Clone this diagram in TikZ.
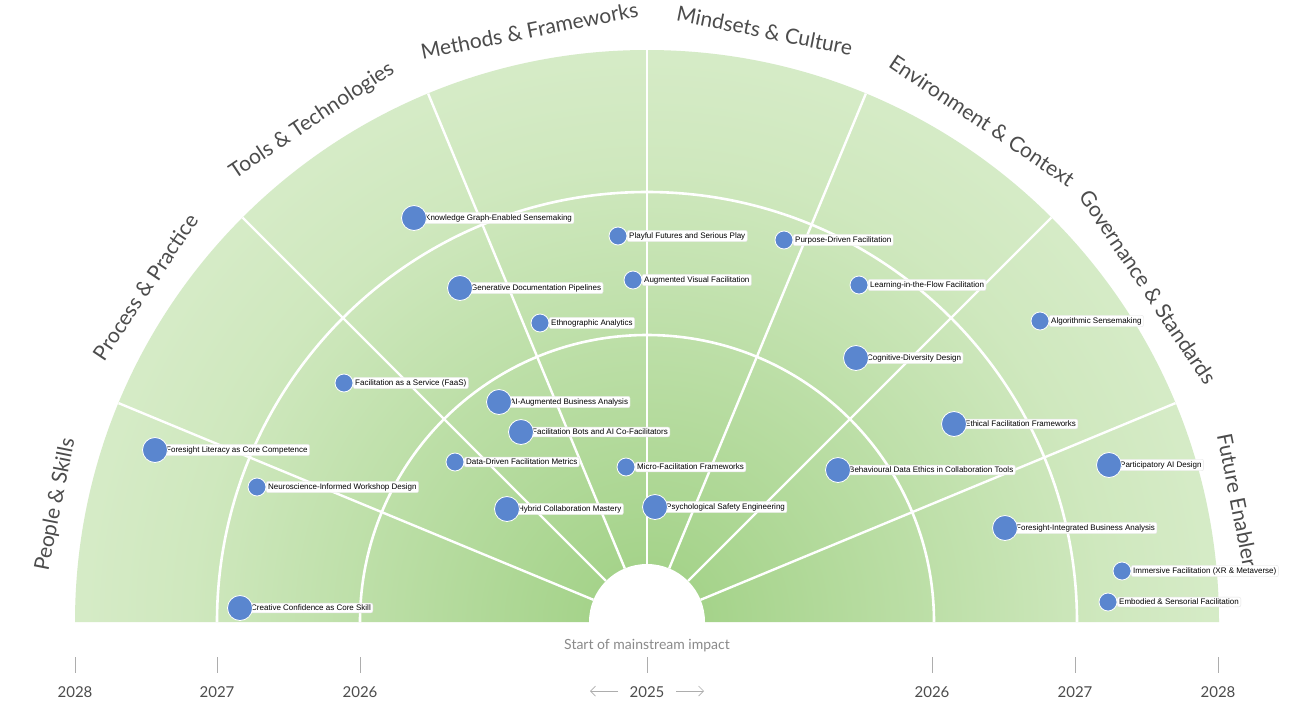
\documentclass[tikz,border=0pt]{standalone}
\usepackage{fontspec}
\setmainfont{Lato}
\newfontfamily\blipfont{Liberation Sans}
\usetikzlibrary{arrows.meta,calc}

\definecolor{radarin}{HTML}{9FD083}
\definecolor{radarmid}{HTML}{CFE8BE}
\definecolor{radarout}{HTML}{F6FBF2}
\definecolor{blipblue}{HTML}{5A86CF}
\definecolor{axisgray}{HTML}{8A8A8A}
\pgfdeclareradialshading{radarfade}{\pgfpoint{0bp}{0bp}}{color(0bp)=(radarin); color(20bp)=(radarmid); color(50bp)=(radarout)}

\tikzset{
  ringline/.style = {white, line width=2.6pt},
  sectorline/.style = {white, line width=2.4pt},
  catlabel/.style = {font=\fontsize{21}{21}\selectfont, text=black!70},
  yearlabel/.style = {font=\fontsize{15}{15}\selectfont, text=black!70},
  tickline/.style = {axisgray!70, line width=0.8pt},
  bigblip/.style = {circle, fill=blipblue, draw=white, line width=0.8pt, minimum size=25pt, inner sep=0pt},
  smallblip/.style = {circle, fill=blipblue, draw=white, line width=0.8pt, minimum size=18pt, inner sep=0pt},
  bliplabel/.style = {anchor=west, fill=white, rounded corners=2pt, draw=black!10,
                      inner sep=2pt, font=\blipfont\fontsize{8}{8}\selectfont}
}

\begin{document}
\begin{tikzpicture}[x=1pt, y=-1pt]
\useasboundingbox[fill=white] (0,0) rectangle (1310,713);
\coordinate (C) at (647,622);

% background fade
\begin{scope}
\clip (75,622) arc[start angle=180, end angle=360, radius=572] -- cycle;
\shade[shading=radarfade] (C) circle (572);
\end{scope}

% rings and sectors
\draw[ringline] (360,622) arc[start angle=180, end angle=360, radius=287];
\draw[ringline] (217,622) arc[start angle=180, end angle=360, radius=430];
\foreach \a in {22.5,45,...,157.5}
  \draw[sectorline] ($(C)+(-\a:58)$) -- ($(C)+(-\a:572)$);
\fill[white] (C) circle (58);

% sector names
\foreach \a/\name in {11.25/Future Enablers, 33.75/Governance \& Standards,
    56.25/Environment \& Context, 78.75/Mindsets \& Culture,
    101.25/Methods \& Frameworks, 123.75/Tools \& Technologies,
    146.25/Process \& Practice, 168.75/People \& Skills}{
  \pgfmathsetmacro{\rot}{\a-90}
  \node[catlabel, rotate=\rot] (cat\a) at ($(C)+(-\a:603)$) {\name};
}

% blips
\foreach \x/\y/\s/\txt [count=\i] in {
  414/218/bigblip/Knowledge Graph-Enabled Sensemaking,
  618/236/smallblip/Playful Futures and Serious Play,
  784/240/smallblip/Purpose-Driven Facilitation,
  460/288/bigblip/Generative Documentation Pipelines,
  633/280/smallblip/Augmented Visual Facilitation,
  859/285/smallblip/Learning-in-the-Flow Facilitation,
  540/323/smallblip/Ethnographic Analytics,
  1040/321/smallblip/Algorithmic Sensemaking,
  856/358/bigblip/Cognitive-Diversity Design,
  344/383/smallblip/Facilitation as a Service (FaaS),
  499/402/bigblip/AI-Augmented Business Analysis,
  954/424/bigblip/Ethical Facilitation Frameworks,
  521/432/bigblip/Facilitation Bots and AI Co-Facilitators,
  155/450/bigblip/Foresight Literacy as Core Competence,
  455/462/smallblip/Data-Driven Facilitation Metrics,
  626/467/smallblip/Micro-Facilitation Frameworks,
  838/470/bigblip/Behavioural Data Ethics in Collaboration Tools,
  1109/465/bigblip/Participatory AI Design,
  257/487/smallblip/Neuroscience-Informed Workshop Design,
  507/509/bigblip/Hybrid Collaboration Mastery,
  655/507/bigblip/Psychological Safety Engineering,
  1005/528/bigblip/Foresight-Integrated Business Analysis,
  1122/571/smallblip/Immersive Facilitation (XR \& Metaverse),
  1108/602/smallblip/Embodied \& Sensorial Facilitation,
  240/608/bigblip/Creative Confidence as Core Skill}{
  \node[bliplabel] (lbl\i) at (\x+9,\y) {\txt};
  \node[\s] (blip\i) at (\x,\y) {};
}

% time axis
\node[yearlabel, text=axisgray, font=\fontsize{14}{14}\selectfont] (start) at (647,646) {Start of mainstream impact};
\foreach \x/\yr [count=\i] in {75/2028, 217/2027, 360/2026, 647/2025, 932/2026, 1075/2027, 1218/2028}{
  \coordinate (tt\i) at (\x,657);
  \coordinate (tb\i) at (\x,673);
  \draw[tickline] (tt\i) -- (tb\i);
  \node[yearlabel] (yr\i) at (\x,692) {\yr};
}
\coordinate (la) at (618,691);
\coordinate (lb) at (590,691);
\coordinate (ra) at (676,691);
\coordinate (rb) at (704,691);
\draw[axisgray!70, line width=0.7pt, -{Straight Barb[length=5pt,width=10pt]}] (la) -- (lb);
\draw[axisgray!70, line width=0.7pt, -{Straight Barb[length=5pt,width=10pt]}] (ra) -- (rb);
\end{tikzpicture}
\end{document}
